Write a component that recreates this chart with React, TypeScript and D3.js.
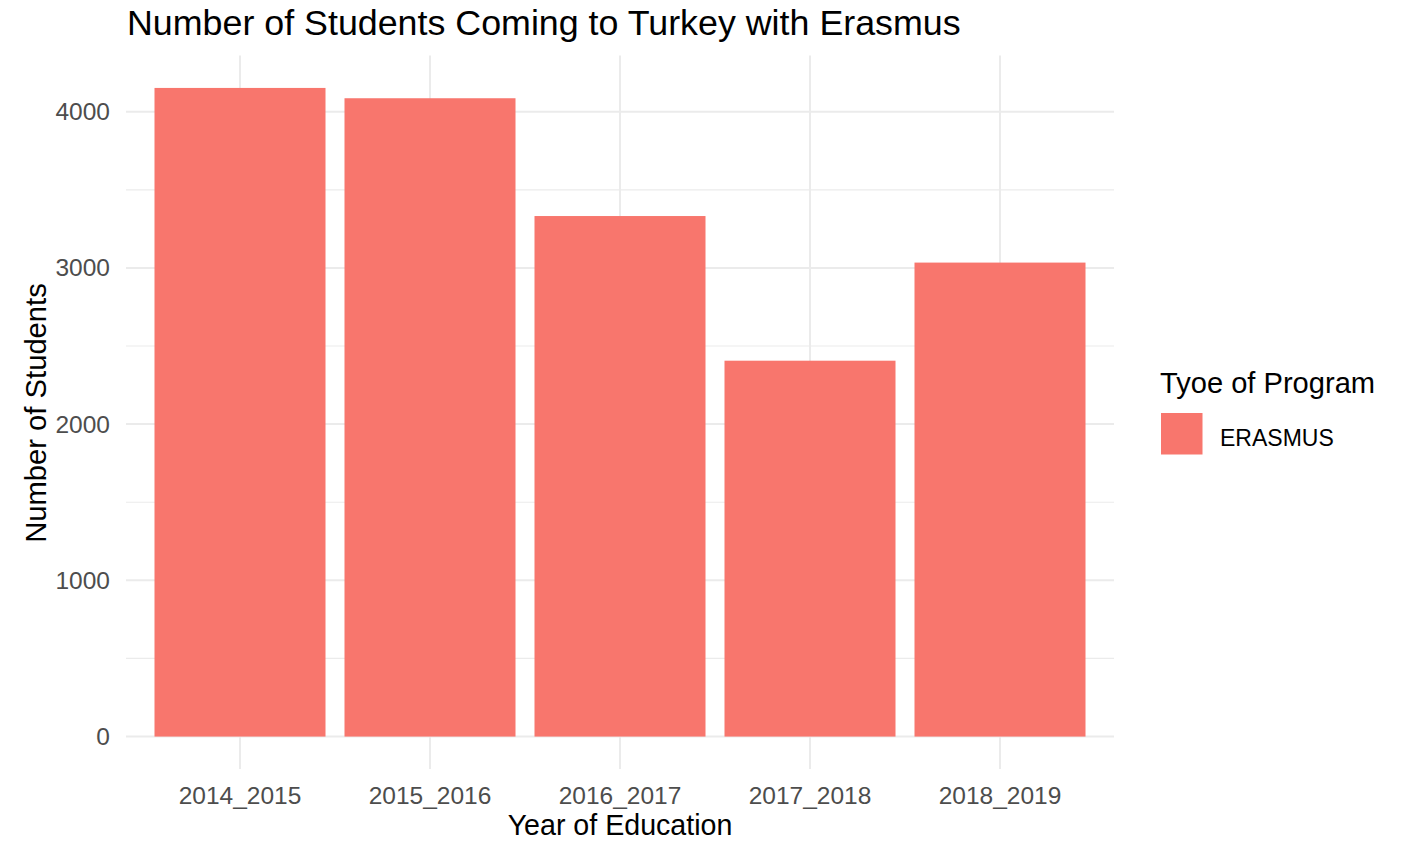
import React from "react";
import * as d3 from "d3";

const categories = ["2014_2015", "2015_2016", "2016_2017", "2017_2018", "2018_2019"];
const students = [4152, 4086, 3332, 2406, 3034];
const yTicks = [0, 1000, 2000, 3000, 4000];
const yMinorTicks = [500, 1500, 2500, 3500];
const legendLabels = ["ERASMUS"];

const W = 1404;
const H = 844;
const panel = { left: 126, right: 1114, top: 55.5, bottom: 769 };
const FONT = "'Liberation Sans', Arial, Helvetica, sans-serif";
const BAR = "#F8766D";
const GRID = "#ebebeb";

export default function App() {
  const maxV = d3.max(students) as number;
  const ex = maxV * 0.05;
  const y = d3.scaleLinear().domain([-ex, maxV + ex]).range([panel.bottom, panel.top]);
  const x = d3
    .scaleBand<string>()
    .domain(categories)
    .range([panel.left, panel.right])
    .paddingInner(0.1)
    .paddingOuter(0.15);
  const centers = categories.map((c) => (x(c) as number) + x.bandwidth() / 2);

  return (
    <svg
      width={W}
      height={H}
      style={{ position: "absolute", left: 0, top: 0, background: "#fff" }}
      fontFamily={FONT}
    >
      <rect x={0} y={0} width={W} height={H} fill="#fff" />
      {/* minor grid */}
      {yMinorTicks.map((t) => (
        <line key={"mi" + t} x1={panel.left} x2={panel.right} y1={y(t)} y2={y(t)} stroke={GRID} strokeWidth={1.2} />
      ))}
      {/* major grid */}
      {yTicks.map((t) => (
        <line key={"ma" + t} x1={panel.left} x2={panel.right} y1={y(t)} y2={y(t)} stroke={GRID} strokeWidth={2} />
      ))}
      {centers.map((cx, i) => (
        <line key={"vx" + i} x1={cx} x2={cx} y1={panel.top} y2={panel.bottom} stroke={GRID} strokeWidth={2} />
      ))}
      {/* bars */}
      {categories.map((c, i) => (
        <rect
          key={c}
          x={x(c) as number}
          y={y(students[i])}
          width={x.bandwidth()}
          height={y(0) - y(students[i])}
          fill={BAR}
        />
      ))}
      {/* y tick labels */}
      {yTicks.map((t) => (
        <text key={"yl" + t} x={110} y={y(t)} dy="0.35em" textAnchor="end" fontSize={24.5} fill="#4d4d4d">
          {t}
        </text>
      ))}
      {/* x tick labels */}
      {categories.map((c, i) => (
        <text key={"xl" + c} x={centers[i]} y={804} textAnchor="middle" fontSize={24.5} fill="#4d4d4d">
          {c}
        </text>
      ))}
      {/* axis titles */}
      <text x={(panel.left + panel.right) / 2} y={835} textAnchor="middle" fontSize={28.6} fill="#000">
        Year of Education
      </text>
      <text
        transform={`translate(46, ${(y(0) + y(4000)) / 2 + (413 - (y(0) + y(4000)) / 2)}) rotate(-90)`}
        textAnchor="middle"
        fontSize={29.2}
        fill="#000"
      >
        Number of Students
      </text>
      {/* title */}
      <text x={127} y={35} fontSize={35.8} fill="#000">
        Number of Students Coming to Turkey with Erasmus
      </text>
      {/* legend */}
      <text x={1160} y={393} fontSize={29.1} fill="#000">
        Tyoe of Program
      </text>
      {legendLabels.map((l, i) => (
        <g key={l}>
          <rect x={1161} y={413 + i * 45} width={41.5} height={41.5} fill={BAR} />
          <text x={1220} y={446 + i * 45} fontSize={23} fill="#000">
            {l}
          </text>
        </g>
      ))}
    </svg>
  );
}
